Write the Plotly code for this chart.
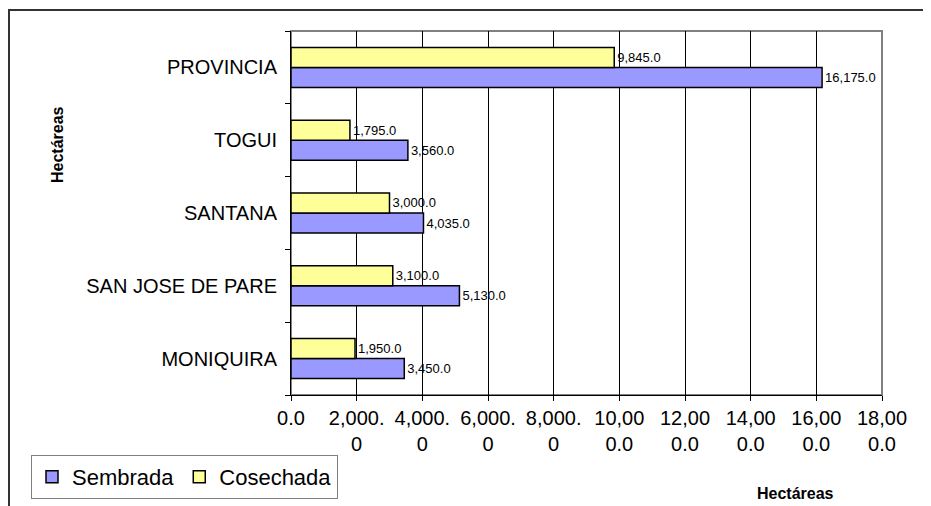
import plotly.graph_objects as go

# data
municipios = ["MONIQUIRA", "SAN JOSE DE PARE", "SANTANA", "TOGUI", "PROVINCIA"]
sembrada = [3450, 5130, 4035, 3560, 16175]
cosechada = [1950, 3100, 3000, 1795, 9845]
tick_vals = [0, 2000, 4000, 6000, 8000, 10000, 12000, 14000, 16000, 18000]
tick_text = ["0.0", "2,000.<br>0", "4,000.<br>0", "6,000.<br>0", "8,000.<br>0",
             "10,00<br>0.0", "12,00<br>0.0", "14,00<br>0.0", "16,00<br>0.0", "18,00<br>0.0"]

# plot area in page pixels (page body has an 8px margin)
OFF = 8
L, R, T, B = 291, 882, 31, 395
W, H = R - L, B - T


def px(x):
    return (x - L) / W


def py(y):
    return (B - y) / H


fig = go.Figure()
fig.add_trace(go.Bar(
    y=municipios, x=sembrada, name="Sembrada", orientation="h",
    marker=dict(color="#9999FF", line=dict(color="black", width=1.5)),
    text=sembrada, texttemplate="%{x:,.1f}", textposition="outside",
    textfont=dict(family="Arial", size=13, color="black"), cliponaxis=False,
))
fig.add_trace(go.Bar(
    y=municipios, x=cosechada, name="Cosechada", orientation="h",
    marker=dict(color="#FFFF99", line=dict(color="black", width=1.5)),
    text=cosechada, texttemplate="%{x:,.1f}", textposition="outside",
    textfont=dict(family="Arial", size=13, color="black"), cliponaxis=False,
))

fig.update_layout(
    width=931, height=506,
    margin=dict(l=L - OFF, r=931 - R + OFF, t=T - OFF, b=506 - B + OFF,
                autoexpand=False),
    paper_bgcolor="white", plot_bgcolor="white",
    barmode="group", bargap=0.45, bargroupgap=0,
    font=dict(family="Arial", color="black"),
    showlegend=True,
    legend=dict(
        orientation="h", x=px(31), y=py(455), xanchor="left", yanchor="top",
        font=dict(family="Arial", size=22), bordercolor="#808080", borderwidth=1,
        bgcolor="white", itemwidth=30, traceorder="normal",
    ),
    xaxis=dict(
        range=[0, 18000], tickvals=tick_vals, ticktext=tick_text,
        showgrid=True, gridcolor="black", gridwidth=1, zeroline=False,
        showline=True, linecolor="black", linewidth=1,
        ticks="outside", ticklen=5, tickcolor="black",
        tickfont=dict(family="Arial", size=20),
    ),
    yaxis=dict(
        type="category", showgrid=False, zeroline=False,
        showline=True, linecolor="black", linewidth=1,
        ticks="outside", ticklen=5, tickcolor="black", tickson="boundaries",
        tickfont=dict(family="Arial", size=20), ticklabelstandoff=9,
    ),
    shapes=[
        # gray plot-area frame (top/right)
        dict(type="rect", xref="paper", yref="paper", x0=0, x1=1, y0=0, y1=1,
             line=dict(color="#808080", width=2), layer="below"),
        # outer chart border
        dict(type="rect", xref="paper", yref="paper",
             x0=px(9), x1=px(960), y0=py(530), y1=py(10),
             line=dict(color="#333333", width=2), layer="below"),
    ],
    annotations=[
        dict(text="<b>Hectáreas</b>", xref="paper", yref="paper",
             x=px(57), y=py(145), textangle=-90, showarrow=False,
             xanchor="center", yanchor="middle",
             font=dict(family="Arial", size=16)),
        dict(text="<b>Hectáreas</b>", xref="paper", yref="paper",
             x=px(795), y=py(493), showarrow=False,
             xanchor="center", yanchor="middle",
             font=dict(family="Arial", size=16)),
    ],
)

fig.write_html("out.html")
